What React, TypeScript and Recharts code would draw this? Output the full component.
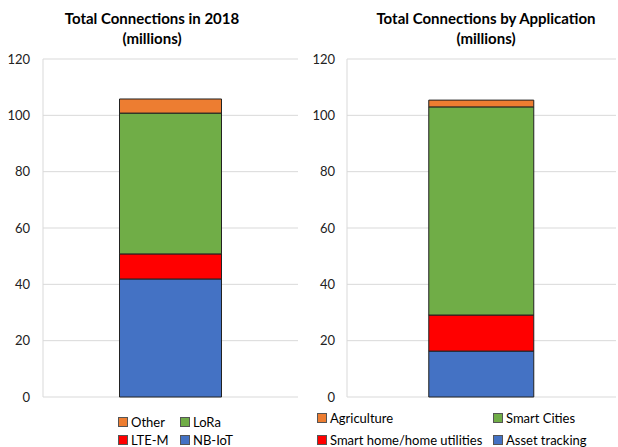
import React from "react";
import { BarChart, Bar, XAxis, YAxis, CartesianGrid } from "recharts";

const categories = ["2018"];
const nbIot = [41.9];
const lteM = [8.9];
const lora = [50];
const other = [5];

const assetTracking = [16.3];
const smartHome = [12.8];
const smartCities = [73.9];
const agriculture = [2.4];

const yTicks = [0, 20, 40, 60, 80, 100, 120];

const techSeries = [
  { key: "nbIot", name: "NB-IoT", color: "#4472C4" },
  { key: "lteM", name: "LTE-M", color: "#FF0000" },
  { key: "lora", name: "LoRa", color: "#70AD47" },
  { key: "other", name: "Other", color: "#ED7D31" },
];
const appSeries = [
  { key: "asset", name: "Asset tracking", color: "#4472C4" },
  { key: "home", name: "Smart home/home utilities", color: "#FF0000" },
  { key: "cities", name: "Smart Cities", color: "#70AD47" },
  { key: "agri", name: "Agriculture", color: "#ED7D31" },
];

const techData = categories.map((c, i) => ({
  name: c,
  nbIot: nbIot[i],
  lteM: lteM[i],
  lora: lora[i],
  other: other[i],
}));

const appData = categories.map((c, i) => ({
  name: c,
  asset: assetTracking[i],
  home: smartHome[i],
  cities: smartCities[i],
  agri: agriculture[i],
}));

const FONT = "Lato, 'Open Sans', sans-serif";
const GRID = "#d9d9d9";

type Series = { key: string; name: string; color: string };

function LegendBlock({
  series,
  left,
  cols,
  rows,
}: {
  series: Series[];
  left: number;
  cols: number[];
  rows: number[];
}) {
  const items = [...series].reverse();
  return (
    <div style={{ position: "absolute", left, top: 0 }}>
      {items.map((it, idx) => {
        const col = idx % 2;
        const row = Math.floor(idx / 2);
        return (
          <div
            key={it.key}
            style={{
              position: "absolute",
              left: cols[col],
              top: rows[row] - 9,
              height: 18,
              display: "flex",
              alignItems: "center",
              whiteSpace: "nowrap",
              fontFamily: FONT,
              fontSize: 13,
              color: "#000",
            }}
          >
            <span
              style={{
                display: "inline-block",
                width: 8,
                height: 8,
                background: it.color,
                border: "1px solid #555",
                marginRight: 3,
              }}
            />
            {it.name}
          </div>
        );
      })}
    </div>
  );
}

const titleStyle = (center: number): React.CSSProperties => ({
  position: "absolute",
  left: center - 150,
  width: 300,
  top: 8,
  textAlign: "center",
  fontFamily: FONT,
  fontWeight: 700,
  fontSize: 15,
  lineHeight: "20px",
  color: "#000",
});

const tickStyle = { fontFamily: FONT, fontSize: 13, fill: "#222" };

export default function App() {
  return (
    <div
      style={{
        position: "absolute",
        left: 0,
        top: 0,
        width: 618,
        height: 447,
        background: "#fff",
        overflow: "hidden",
      }}
    >
      <div style={titleStyle(152)}>
        Total Connections in 2018
        <br />
        (millions)
      </div>
      <div style={titleStyle(486)}>
        Total Connections by Application
        <br />
        (millions)
      </div>

      <div style={{ position: "absolute", left: 0, top: 0 }}>
        <BarChart
          width={309}
          height={447}
          data={techData}
          margin={{ top: 59, right: 11, bottom: 50, left: 0 }}
          barCategoryGap="30%"
        >
          <CartesianGrid vertical={false} stroke={GRID} />
          <XAxis dataKey="name" hide />
          <YAxis
            width={43}
            domain={[0, 120]}
            ticks={yTicks}
            tickLine={false}
            tickMargin={7}
            axisLine={{ stroke: GRID }}
            tick={tickStyle}
          />
          {techSeries.map((s) => (
            <Bar
              key={s.key}
              dataKey={s.key}
              name={s.name}
              stackId="a"
              fill={s.color}
              stroke="#222"
              strokeWidth={1}
              isAnimationActive={false}
            />
          ))}
        </BarChart>
      </div>

      <div style={{ position: "absolute", left: 309, top: 0 }}>
        <BarChart
          width={309}
          height={447}
          data={appData}
          margin={{ top: 59, right: 2, bottom: 50, left: 0 }}
          barCategoryGap="30.4%"
        >
          <CartesianGrid vertical={false} stroke={GRID} />
          <XAxis dataKey="name" hide />
          <YAxis
            width={38}
            domain={[0, 120]}
            ticks={yTicks}
            tickLine={false}
            tickMargin={6}
            axisLine={{ stroke: GRID }}
            tick={tickStyle}
          />
          {appSeries.map((s) => (
            <Bar
              key={s.key}
              dataKey={s.key}
              name={s.name}
              stackId="b"
              fill={s.color}
              stroke="#222"
              strokeWidth={1}
              isAnimationActive={false}
            />
          ))}
        </BarChart>
      </div>

      <LegendBlock series={techSeries} left={0} cols={[118, 180]} rows={[422, 440]} />
      <LegendBlock series={appSeries} left={309} cols={[8, 184]} rows={[418, 440]} />
    </div>
  );
}
